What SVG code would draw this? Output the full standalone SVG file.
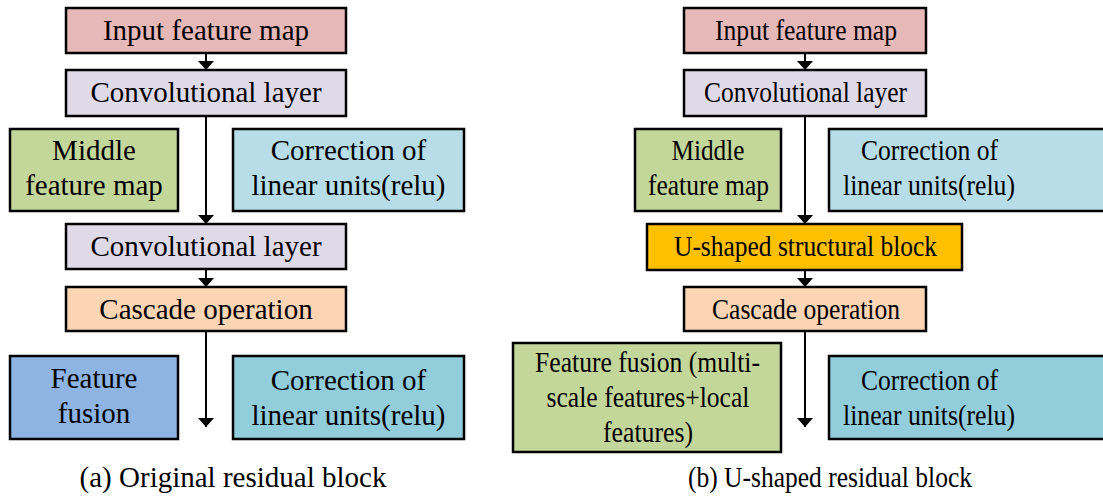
<svg xmlns="http://www.w3.org/2000/svg" width="1103" height="497" viewBox="0 0 1103 497" font-family="Liberation Serif, serif">
  <style>
    .box { stroke: #000; stroke-width: 2.5; }
    .lbl { font-family: "Liberation Serif", serif; font-size: 29px; fill: #000; text-anchor: middle; }
    .wire { stroke: #000; stroke-width: 2; fill: none; }
    .input { fill: #E6B8B7; }
    .conv { fill: #DFDAE8; }
    .mid { fill: #C4D79B; }
    .relu { fill: #B7DEE8; }
    .relu2 { fill: #92CDDC; }
    .cascade { fill: #FCD5B4; }
    .fusion { fill: #8DB4E2; }
    .ublock { fill: #FFC000; }
  </style>
  <defs>
    <marker id="arrow" viewBox="0 0 9 16" refX="9" refY="8" markerWidth="9" markerHeight="16" markerUnits="userSpaceOnUse" orient="auto">
      <path d="M0,0 L9,8 L0,16 Z" fill="#000"/>
    </marker>
  </defs>

  <rect width="1103" height="497" fill="#fff"/>

  <!-- connectors -->
  <g id="connectors">
    <line class="wire" x1="206" y1="53" x2="206" y2="70" marker-end="url(#arrow)"/>
    <line class="wire" x1="206" y1="116" x2="206" y2="224" marker-end="url(#arrow)"/>
    <line class="wire" x1="206" y1="269" x2="206" y2="287" marker-end="url(#arrow)"/>
    <line class="wire" x1="206" y1="331" x2="206" y2="427" marker-end="url(#arrow)"/>

    <line class="wire" x1="805" y1="53" x2="805" y2="70" marker-end="url(#arrow)"/>
    <line class="wire" x1="805" y1="116" x2="805" y2="224" marker-end="url(#arrow)"/>
    <line class="wire" x1="805" y1="270" x2="805" y2="287" marker-end="url(#arrow)"/>
    <line class="wire" x1="805" y1="331" x2="805" y2="427" marker-end="url(#arrow)"/>
  </g>

  <!-- (a) original residual block -->
  <g id="a-input">
    <rect class="box input" x="66" y="8" width="280" height="45"/>
    <text class="lbl" x="206" y="40">Input feature map</text>
  </g>
  <g id="a-conv1">
    <rect class="box conv" x="66" y="70" width="280" height="46"/>
    <text class="lbl" x="206" y="102">Convolutional layer</text>
  </g>
  <g id="a-middle">
    <rect class="box mid" x="10" y="129" width="168" height="82"/>
    <text class="lbl" x="94" y="160">Middle</text>
    <text class="lbl" x="94" y="195">feature map</text>
  </g>
  <g id="a-relu1">
    <rect class="box relu" x="233" y="129" width="231" height="82"/>
    <text class="lbl" x="348.5" y="160">Correction of</text>
    <text class="lbl" x="348.5" y="195">linear units(relu)</text>
  </g>
  <g id="a-conv2">
    <rect class="box conv" x="66" y="224" width="280" height="45"/>
    <text class="lbl" x="206" y="256">Convolutional layer</text>
  </g>
  <g id="a-cascade">
    <rect class="box cascade" x="66" y="287" width="280" height="44"/>
    <text class="lbl" x="206" y="319">Cascade operation</text>
  </g>
  <g id="a-fusion">
    <rect class="box fusion" x="10" y="356" width="168" height="83"/>
    <text class="lbl" x="94" y="388">Feature</text>
    <text class="lbl" x="94" y="423">fusion</text>
  </g>
  <g id="a-relu2">
    <rect class="box relu2" x="233" y="356" width="231" height="83"/>
    <text class="lbl" x="348.5" y="390">Correction of</text>
    <text class="lbl" x="348.5" y="425">linear units(relu)</text>
  </g>
  <text class="lbl" x="233" y="487">(a) Original residual block</text>

  <!-- (b) U-shaped residual block: labels set slightly condensed -->
  <g id="b-input">
    <rect class="box input" x="684" y="8" width="242" height="45"/>
    <text class="lbl" x="806" y="40" textLength="182" lengthAdjust="spacingAndGlyphs">Input feature map</text>
  </g>
  <g id="b-conv1">
    <rect class="box conv" x="684" y="70" width="242" height="46"/>
    <text class="lbl" x="805.5" y="102" textLength="203" lengthAdjust="spacingAndGlyphs">Convolutional layer</text>
  </g>
  <g id="b-middle">
    <rect class="box mid" x="635" y="129" width="146" height="82"/>
    <text class="lbl" x="708" y="160" textLength="73" lengthAdjust="spacingAndGlyphs">Middle</text>
    <text class="lbl" x="708.5" y="195" textLength="121" lengthAdjust="spacingAndGlyphs">feature map</text>
  </g>
  <g id="b-relu1">
    <rect class="box relu" x="829" y="129" width="280" height="82"/>
    <text class="lbl" x="929.5" y="160" textLength="137" lengthAdjust="spacingAndGlyphs">Correction of</text>
    <text class="lbl" x="929" y="195" textLength="172" lengthAdjust="spacingAndGlyphs">linear units(relu)</text>
  </g>
  <g id="b-ublock">
    <rect class="box ublock" x="647" y="224" width="315" height="46"/>
    <text class="lbl" x="805.5" y="256" textLength="263" lengthAdjust="spacingAndGlyphs">U-shaped structural block</text>
  </g>
  <g id="b-cascade">
    <rect class="box cascade" x="684" y="287" width="242" height="44"/>
    <text class="lbl" x="806" y="319" textLength="188" lengthAdjust="spacingAndGlyphs">Cascade operation</text>
  </g>
  <g id="b-fusion">
    <rect class="box mid" x="513" y="343" width="268" height="109"/>
    <text class="lbl" x="647.5" y="372" textLength="225" lengthAdjust="spacingAndGlyphs">Feature fusion (multi-</text>
    <text class="lbl" x="648" y="407" textLength="203" lengthAdjust="spacingAndGlyphs">scale features+local</text>
    <text class="lbl" x="648" y="442" textLength="90" lengthAdjust="spacingAndGlyphs">features)</text>
  </g>
  <g id="b-relu2">
    <rect class="box relu2" x="829" y="356" width="280" height="83"/>
    <text class="lbl" x="929.5" y="390" textLength="137" lengthAdjust="spacingAndGlyphs">Correction of</text>
    <text class="lbl" x="929" y="425" textLength="172" lengthAdjust="spacingAndGlyphs">linear units(relu)</text>
  </g>
  <text class="lbl" x="830" y="487" textLength="284" lengthAdjust="spacingAndGlyphs">(b) U-shaped residual block</text>
</svg>
